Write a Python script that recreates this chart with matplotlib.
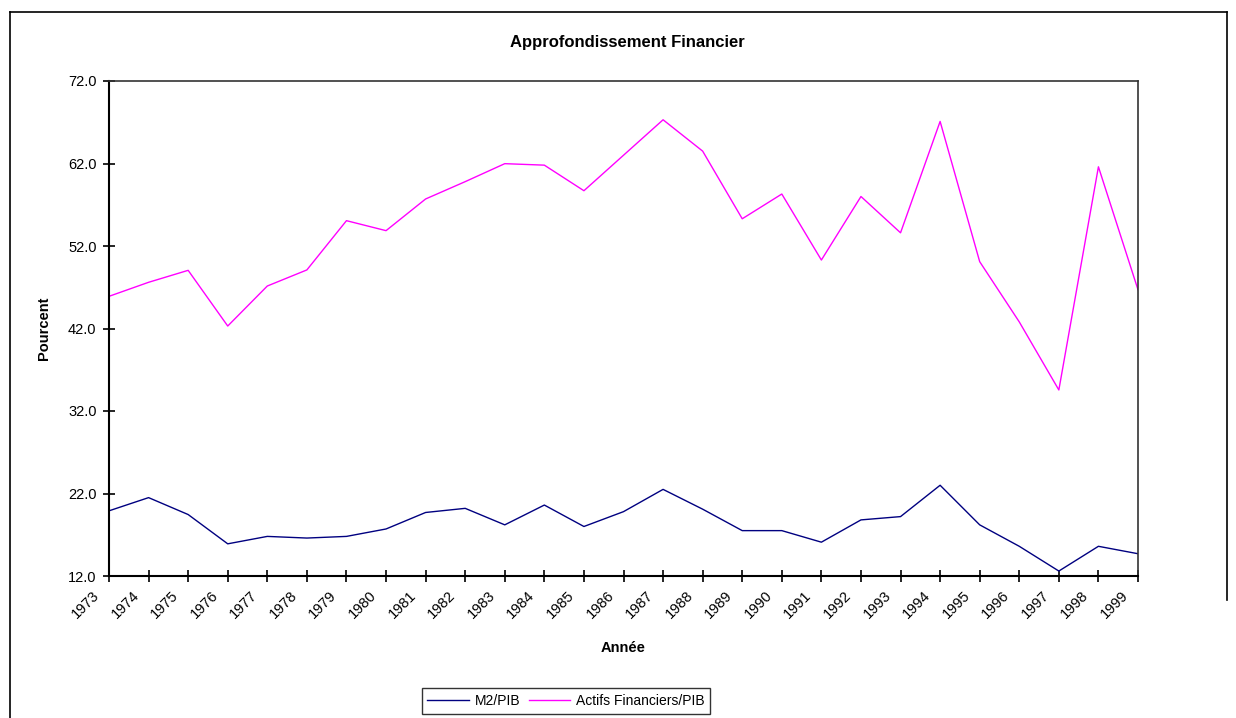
import matplotlib
matplotlib.use("Agg")
from matplotlib import pyplot as plt
from matplotlib.lines import Line2D
import matplotlib.transforms as mtransforms

plt.rcParams["font.family"] = ["Liberation Sans", "DejaVu Sans"]

# data
years = list(range(1973, 2000))
m2_pib = [19.9, 21.5, 19.45, 15.9, 16.8, 16.6, 16.8, 17.7, 19.7, 20.2, 18.2,
          20.6, 18.0, 19.8, 22.5, 20.1, 17.5, 17.5, 16.1, 18.8, 19.2,
          23.0, 18.2, 15.6, 12.6, 15.6, 14.7]
actifs_pib = [45.9, 47.6, 49.05, 42.3, 47.15, 49.1, 55.07, 53.86, 57.7, 59.8, 61.98,
              61.8, 58.7, 63.0, 67.3, 63.5, 55.3, 58.3, 50.3, 58.0, 53.6,
              67.1, 50.1, 42.8, 34.55, 61.6, 46.7]
y_ticks = [12.0, 22.0, 32.0, 42.0, 52.0, 62.0, 72.0]

fig = plt.figure(figsize=(12.36, 7.18), dpi=100)
ax = fig.add_axes([109 / 1236, 1 - 576 / 718, (1138 - 109) / 1236, (576 - 81) / 718])

ax.plot(years, m2_pib, color="#000080", lw=1.0, label="M2/PIB")
ax.plot(years, actifs_pib, color="#FF00FF", lw=1.0, label="Actifs Financiers/PIB")

ax.set_xlim(years[0], years[-1])
ax.set_ylim(y_ticks[0], y_ticks[-1])
ax.set_yticks(y_ticks)
ax.set_yticklabels(["%.1f" % v for v in y_ticks], fontsize=10.5)
ax.set_xticks(years)
ax.set_xticklabels([str(y) for y in years], rotation=45, ha="right", fontsize=10.5)
ax.tick_params(direction="inout", length=8, width=1.2, pad=5)

# shift the rotated year labels a little to the left, like the original
shift = mtransforms.ScaledTranslation(-7 / 100, 0, fig.dpi_scale_trans)
for lbl in ax.get_xticklabels():
    lbl.set_transform(lbl.get_transform() + shift)

for s in ["left", "bottom"]:
    ax.spines[s].set_linewidth(1.5)
for s in ["top", "right"]:
    ax.spines[s].set_linewidth(1.2)
    ax.spines[s].set_color("#333333")

ax.set_ylabel("Pourcent", fontsize=10.5, fontweight="bold", labelpad=12)
ax.set_xlabel("Année", fontsize=10.5, fontweight="bold", labelpad=14)
fig.text(627 / 1236, 1 - 42 / 718, "Approfondissement Financier",
         ha="center", va="center", fontsize=12, fontweight="bold")

leg = fig.legend(loc="center", bbox_to_anchor=(566 / 1236, 1 - 701 / 718),
                 ncol=2, fontsize=10, frameon=True, fancybox=False,
                 handlelength=3.0, columnspacing=0.6, handletextpad=0.4,
                 borderpad=0.4)
leg.get_frame().set_edgecolor("black")
leg.get_frame().set_linewidth(1.0)

# outer chart frame
frame_kw = dict(color="black", lw=1.2, transform=fig.transFigure)
fig.add_artist(Line2D([10 / 1236, 10 / 1236], [0, 1 - 12 / 718], **frame_kw))
fig.add_artist(Line2D([10 / 1236, 1227 / 1236], [1 - 12 / 718, 1 - 12 / 718], **frame_kw))
fig.add_artist(Line2D([1227 / 1236, 1227 / 1236], [1 - 600 / 718, 1 - 12 / 718], **frame_kw))

fig.savefig("out.png", dpi=100)
